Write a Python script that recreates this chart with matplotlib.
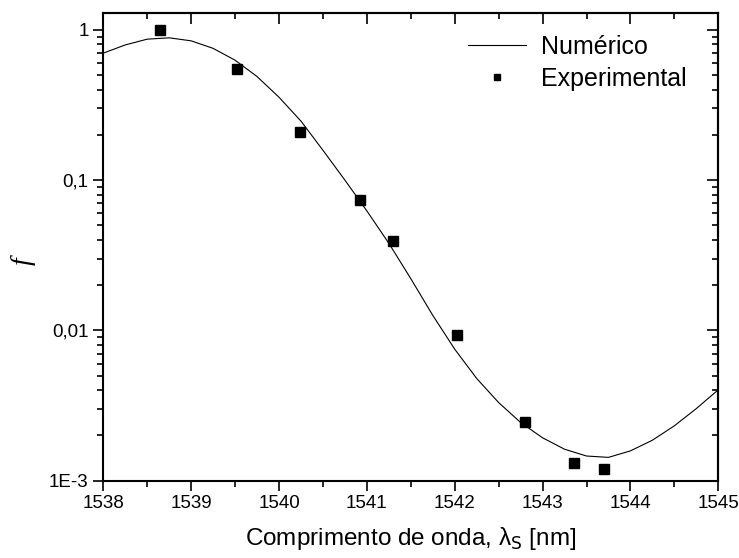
import matplotlib
matplotlib.use('Agg')
import matplotlib.pyplot as plt
from matplotlib.ticker import FixedLocator, FixedFormatter, LogLocator, MultipleLocator

plt.rcParams['font.family'] = ['Liberation Sans', 'DejaVu Sans']

# numerical curve (every 0.25 nm)
lam_num = [1538.00, 1538.25, 1538.50, 1538.75, 1539.00, 1539.25, 1539.50, 1539.75,
           1540.00, 1540.25, 1540.50, 1540.75, 1541.00, 1541.25, 1541.50, 1541.75,
           1542.00, 1542.25, 1542.50, 1542.75, 1543.00, 1543.25, 1543.50, 1543.75,
           1544.00, 1544.25, 1544.50, 1544.75, 1545.00]
f_num = [0.700, 0.794, 0.867, 0.885, 0.845, 0.753, 0.628, 0.489,
         0.356, 0.247, 0.158, 0.100, 0.0624, 0.0380, 0.0221, 0.0126,
         0.00750, 0.00479, 0.00331, 0.00244, 0.00193, 0.00162, 0.00146, 0.00143,
         0.00158, 0.00186, 0.00232, 0.00302, 0.00403]

# experimental points
lam_exp = [1538.64, 1539.52, 1540.24, 1540.92, 1541.30, 1542.03, 1542.80, 1543.36, 1543.70]
f_exp = [1.00, 0.548, 0.208, 0.0742, 0.0392, 0.00936, 0.00247, 0.00131, 0.00119]

ytick_vals = [1e-3, 1e-2, 1e-1, 1]
ytick_labels = ['1E-3', '0,01', '0,1', '1']

fig = plt.figure(figsize=(7.39, 5.58), dpi=100)
ax = fig.add_axes([0.1398, 0.1385, 0.8322, 0.8387])

ax.plot(lam_num, f_num, color='black', lw=0.8, label='Numérico')
ax.plot(lam_exp, f_exp, 's', color='black', ms=6.5, label='Experimental')

ax.set_yscale('log')
ax.set_xlim(1538, 1545)
ax.set_ylim(1e-3, 1.30)

ax.xaxis.set_major_locator(MultipleLocator(1))
ax.xaxis.set_minor_locator(MultipleLocator(0.5))
ax.yaxis.set_major_locator(FixedLocator(ytick_vals))
ax.yaxis.set_major_formatter(FixedFormatter(ytick_labels))
ax.yaxis.set_minor_locator(LogLocator(base=10, subs=range(2, 10)))
ax.yaxis.set_minor_formatter(FixedFormatter([]))

for s in ax.spines.values():
    s.set_linewidth(1.5)

ax.tick_params(which='both', direction='out', width=1.2, labelsize=13.5,
               top=False, right=False)
ax.tick_params(which='major', length=7)
ax.tick_params(which='minor', length=4)

# inward ticks on top and right
sec_x = ax.secondary_xaxis('top')
sec_x.xaxis.set_major_locator(MultipleLocator(1))
sec_x.xaxis.set_minor_locator(MultipleLocator(0.5))
sec_x.tick_params(which='both', direction='in', width=1.2, labeltop=False)
sec_x.tick_params(which='major', length=8)
sec_x.tick_params(which='minor', length=4)
sec_x.spines['top'].set_linewidth(1.5)

sec_y = ax.secondary_yaxis('right')
sec_y.yaxis.set_major_locator(FixedLocator(ytick_vals))
sec_y.yaxis.set_minor_locator(LogLocator(base=10, subs=range(2, 10)))
sec_y.tick_params(which='both', direction='in', width=1.2, labelright=False)
sec_y.tick_params(which='major', length=8)
sec_y.tick_params(which='minor', length=4)
sec_y.spines['right'].set_linewidth(1.5)

ax.set_xlabel('Comprimento de onda, λ$_\\mathrm{S}$ [nm]', fontsize=17.5, labelpad=9)
ax.set_ylabel('f', fontsize=20, family='Liberation Serif', style='italic')
ax.yaxis.set_label_coords(-0.11, 0.47)

ax.legend(loc='upper right', frameon=False, fontsize=18, markerscale=0.7,
          handlelength=2.3, handletextpad=0.6, labelspacing=0.3,
          bbox_to_anchor=(0.985, 1.0))

fig.savefig('out.png', dpi=100)
